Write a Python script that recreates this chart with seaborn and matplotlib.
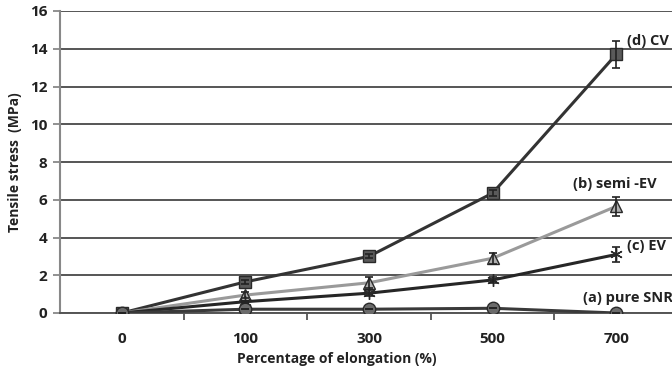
import pandas as pd
import matplotlib.pyplot as plt
import seaborn as sns

# data
elongation = ['0', '100', '300', '500', '700']
cv_stress = [0.0, 1.65, 3.0, 6.35, 13.7]
cv_err = [0.0, 0.1, 0.1, 0.15, 0.7]
semi_ev_stress = [0.0, 0.95, 1.6, 2.9, 5.65]
semi_ev_err = [0.0, 0.15, 0.3, 0.3, 0.5]
ev_stress = [0.0, 0.6, 1.05, 1.75, 3.1]
ev_err = [0.0, 0.05, 0.15, 0.15, 0.4]
snr_stress = [0.0, 0.2, 0.2, 0.25, 0.0]
snr_err = [0.0, 0.0, 0.0, 0.0, 0.0]
labels = ['(d) CV', '(b) semi -EV', '(c) EV', '(a) pure SNR']

series = {
    '(d) CV': (cv_stress, cv_err, 's', '#333333', '#5a5a5a'),
    '(b) semi -EV': (semi_ev_stress, semi_ev_err, '^', '#9a9a9a', '#b0b0b0'),
    '(c) EV': (ev_stress, ev_err, (6, 2, 0), '#262626', '#262626'),
    '(a) pure SNR': (snr_stress, snr_err, 'o', '#3a3a3a', '#6b6b6b'),
}

rows = []
for name, (vals, errs, *_rest) in series.items():
    for x, v, e in zip(elongation, vals, errs):
        rows.append({'elong': x, 'stress': v, 'err': e, 'sample': name})
df = pd.DataFrame(rows)

plt.rcParams['font.family'] = ['Open Sans', 'DejaVu Sans']
fig = plt.figure(figsize=(6.72, 3.73), dpi=100)
ax = fig.add_axes([60 / 672, 60 / 373, 618 / 672, 302 / 373])

for name in labels:
    vals, errs, mk, lc, fc = series[name]
    sub = df[df['sample'] == name]
    sns.lineplot(data=sub, x='elong', y='stress', ax=ax, color=lc, lw=2.2,
                 marker=mk, markersize=9, markerfacecolor=fc,
                 markeredgecolor='#2a2a2a', markeredgewidth=1, sort=False,
                 zorder=3)
    pos = list(range(len(elongation)))
    ax.errorbar(pos, vals, yerr=errs, fmt='none', ecolor='#222222',
                elinewidth=1.2, capsize=3, capthick=1.2, zorder=4)

# series labels at the right
lab_pos = {'(d) CV': (4.09, 14.4), '(b) semi -EV': (3.65, 6.85),
           '(c) EV': (4.09, 3.55), '(a) pure SNR': (3.73, 0.8)}
for name in labels:
    x, y = lab_pos[name]
    ax.text(x, y, name, fontsize=10.5, fontweight='bold', color='#222222',
            ha='left', va='center', clip_on=False)

ax.set_xlim(-0.5, 4.5)
ax.set_ylim(0, 16)
ax.set_yticks(range(0, 17, 2))
ax.grid(axis='y', color='#555555', lw=1.4)
ax.grid(axis='x', visible=False)
ax.set_axisbelow(True)
for s in ['top', 'right']:
    ax.spines[s].set_visible(False)
ax.spines['left'].set_color('#888888')
ax.spines['left'].set_linewidth(1.5)
ax.spines['bottom'].set_color('#555555')
ax.spines['bottom'].set_linewidth(1.4)
ax.set_xticks([0.5, 1.5, 2.5, 3.5], minor=True)
ax.tick_params(axis='x', which='major', length=0, pad=14)
ax.tick_params(axis='x', which='minor', length=5, color='#555555', width=1.3)
ax.tick_params(axis='y', length=5, color='#888888', width=1.3, pad=4)
for t in ax.get_xticklabels() + ax.get_yticklabels():
    t.set_fontweight('bold')
    t.set_fontsize(11)
    t.set_color('#222222')
ax.set_xlabel('Percentage of elongation (%)', fontsize=10, fontweight='bold',
              color='#222222', labelpad=4)
ax.xaxis.set_label_coords(0.448, -0.13)
ax.set_ylabel('Tensile stress  (MPa)', fontsize=10, fontweight='bold',
              color='#222222', labelpad=6)
legend = ax.get_legend()
if legend:
    legend.remove()

fig.savefig('out.png', dpi=100)
